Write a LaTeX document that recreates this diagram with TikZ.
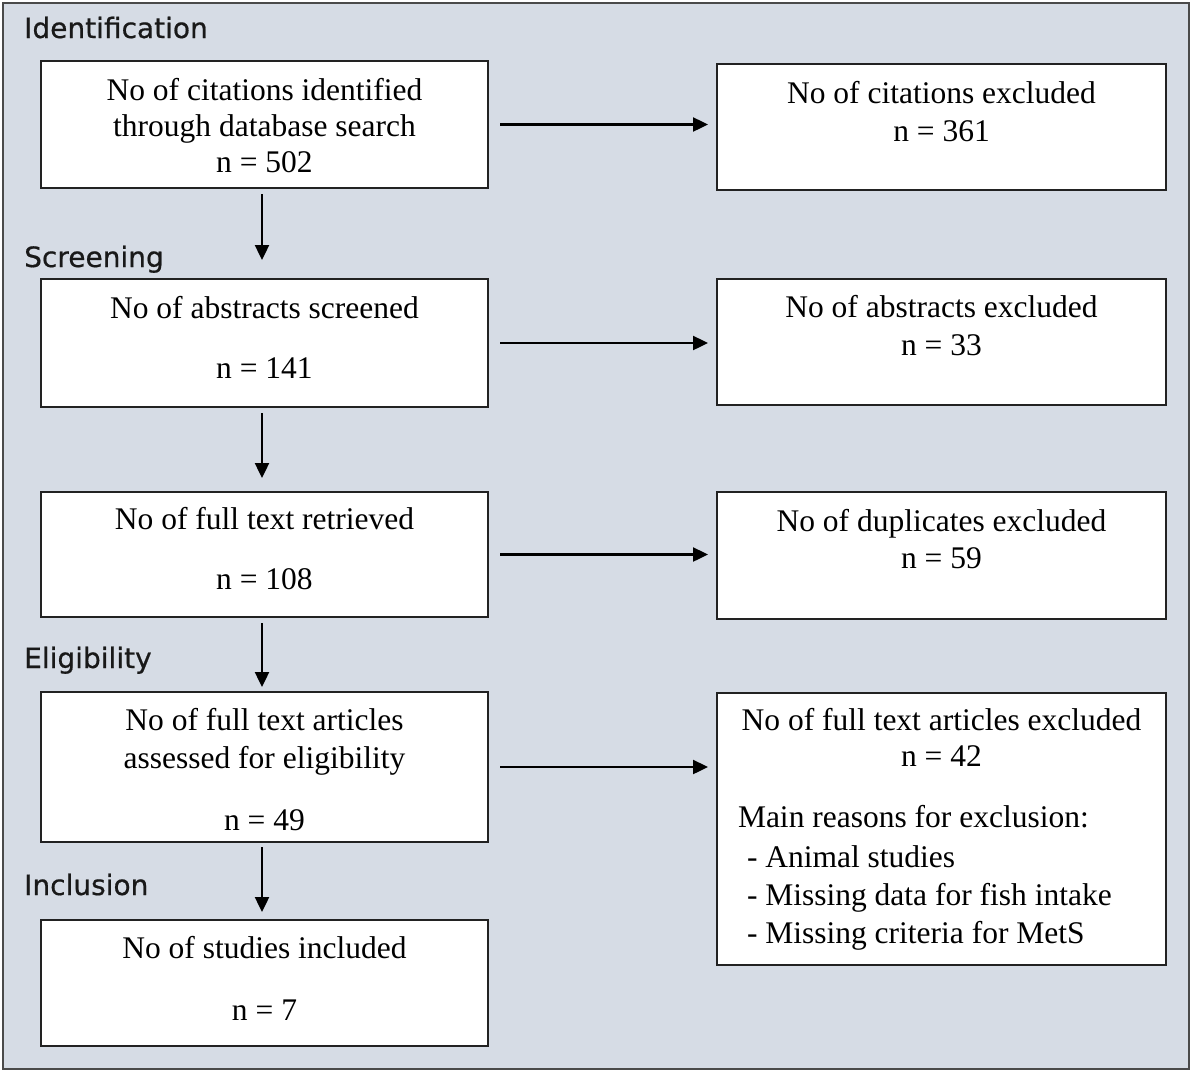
\documentclass[tikz,border=0pt]{standalone}
\usepackage{fontspec}
\setmainfont{Liberation Serif}
\newfontfamily\phasefont[FakeBold=0.6]{DejaVu Sans}
\usetikzlibrary{arrows.meta}
\definecolor{bgc}{HTML}{D6DCE5}
\definecolor{framec}{HTML}{4A4A4A}
\definecolor{boxline}{HTML}{222222}
\newcommand{\boxtxt}[4]{\parbox[c][#2][t]{#1}{\centering\vspace*{#3}\rule{0pt}{22pt}#4}}
\begin{document}
\begin{tikzpicture}[x=1pt,y=-1pt,
  stagebox/.style={draw=boxline,line width=2pt,fill=white,inner sep=0pt,outer sep=0pt,
    font=\fontsize{31.5}{36}\selectfont},
  phase/.style={anchor=base west,inner sep=0pt,text=black!90,font=\phasefont\fontsize{28}{32}\selectfont},
  arr/.style={line width=2.4pt,-{Triangle[length=15pt,width=14pt]}}]
\useasboundingbox (0,0) rectangle (1191,1071);
\draw[draw=framec,fill=bgc,line width=2.2pt] (3,3) rectangle (1189,1069);

% phase labels
\node[phase] (idl) at (24,38) {Identification};
\node[phase] (scr) at (24,267) {Screening};
\node[phase] (eli) at (24,668) {Eligibility};
\node[phase] (inc) at (24,895) {Inclusion};

% left column
\node[stagebox] (b1) at (264.5,124.5) {\boxtxt{447pt}{127pt}{17pt}{No of citations identified\\through database search\\n = 502}};
\node[stagebox] (b2) at (264.5,343) {\boxtxt{447pt}{128pt}{17pt}{No of abstracts screened\\[24pt]n = 141}};
\node[stagebox] (b3) at (264.5,554.5) {\boxtxt{447pt}{125pt}{15pt}{No of full text retrieved\\[24pt]n = 108}};
\node[stagebox] (b4) at (264.5,767) {\boxtxt{447pt}{150pt}{16pt}{No of full text articles\\[2pt]assessed for eligibility\\[26pt]n = 49}};
\node[stagebox] (b5) at (264.5,983) {\boxtxt{447pt}{126pt}{16pt}{No of studies included\\[26pt]n = 7}};

% right column
\node[stagebox] (r1) at (941.5,127) {\boxtxt{449pt}{126pt}{17pt}{No of citations excluded\\[2pt]n = 361}};
\node[stagebox] (r2) at (941.5,342) {\boxtxt{449pt}{126pt}{16pt}{No of abstracts excluded\\[2pt]n = 33}};
\node[stagebox] (r3) at (941.5,555.5) {\boxtxt{449pt}{127pt}{17pt}{No of duplicates excluded\\[1pt]n = 59}};
\node[stagebox] (r4) at (941.5,829) {\boxtxt{449pt}{272pt}{15pt}{No of full text articles excluded\\n = 42\\[25pt]%
\makebox[449pt][l]{\hspace{21pt}Main reasons for exclusion:}\\[4pt]%
\makebox[449pt][l]{\hspace{30pt}- Animal studies}\\[2pt]%
\makebox[449pt][l]{\hspace{30pt}- Missing data for fish intake}\\[2pt]%
\makebox[449pt][l]{\hspace{30pt}- Missing criteria for MetS}}};

% vertical arrows
\draw[arr,shorten <=6pt,shorten >=19pt] ([xshift=-2.5pt]b1.south) -- ([xshift=-2.5pt]b2.north);
\draw[arr,shorten <=6pt,shorten >=14pt] ([xshift=-2.5pt]b2.south) -- ([xshift=-2.5pt]b3.north);
\draw[arr,shorten <=6pt,shorten >=5pt] ([xshift=-2.5pt]b3.south) -- ([xshift=-2.5pt]b4.north);
\draw[arr,shorten <=5pt,shorten >=8pt] ([xshift=-2.5pt]b4.south) -- ([xshift=-2.5pt]b5.north);

% horizontal arrows
\draw[arr,shorten <=12pt,shorten >=9pt] (b1.east) -- (b1.east -| r1.west);
\draw[arr,shorten <=12pt,shorten >=9pt] (b2.east) -- (b2.east -| r2.west);
\draw[arr,shorten <=12pt,shorten >=9pt] (b3.east) -- (b3.east -| r3.west);
\draw[arr,shorten <=12pt,shorten >=9pt] (b4.east) -- (b4.east -| r4.west);
\end{tikzpicture}
\end{document}
